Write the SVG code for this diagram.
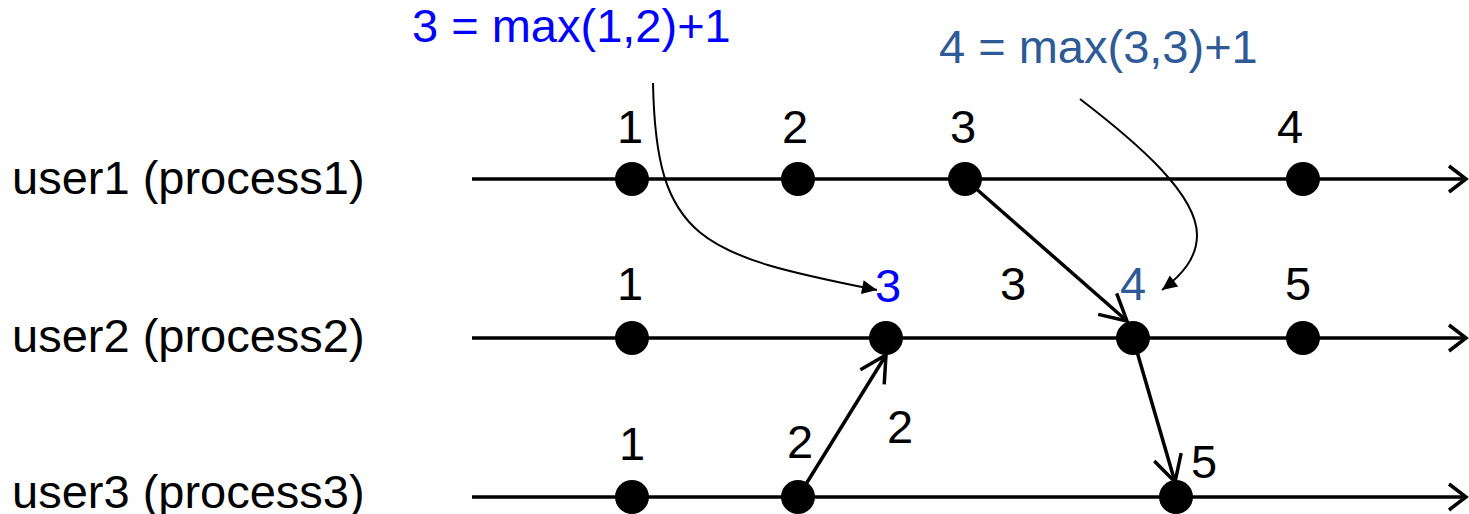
<svg xmlns="http://www.w3.org/2000/svg" width="1469" height="514" viewBox="0 0 1469 514">
<style>
text{font-family:"Liberation Sans",Arial,sans-serif;font-size:47px;fill:#000}
.c{text-anchor:middle}
.blue{fill:#0000FF}
.dblue{fill:#2E5A96}
.tl{stroke:#000;stroke-width:3.5;fill:none}
.msg{stroke:#000;stroke-width:3.5;fill:none}
.cur{stroke:#000;stroke-width:2;fill:none}
.dot{fill:#000}
</style>
<defs>
<marker id="open" markerUnits="userSpaceOnUse" markerWidth="40" markerHeight="40" refX="0" refY="0" viewBox="-30 -20 40 40" orient="auto">
<path d="M-26,-14 L0,0 L-26,14" fill="none" stroke="#000" stroke-width="3.5"/>
</marker>
<marker id="tl" markerUnits="userSpaceOnUse" markerWidth="40" markerHeight="40" refX="0" refY="0" viewBox="-30 -20 40 40" orient="auto">
<path d="M-17,-13 L0,0 L-17,13" fill="none" stroke="#000" stroke-width="3.5"/>
</marker>
<marker id="fill" markerUnits="userSpaceOnUse" markerWidth="30" markerHeight="30" refX="0" refY="0" viewBox="-20 -10 30 20" orient="auto">
<path d="M-15,-7 L0,0 L-15,7 Z" fill="#000"/>
</marker>
</defs>
<g id="labels">
<text x="12" y="194">user1 (process1)</text>
<text x="12" y="352">user2 (process2)</text>
<text x="12" y="508">user3 (process3)</text>
<text class="blue" x="412" y="42">3 = max(1,2)+1</text>
<text class="dblue" x="939" y="63">4 = max(3,3)+1</text>
</g>
<g id="connectors">
<line class="tl" x1="472" y1="179" x2="1466" y2="179" marker-end="url(#tl)"/>
<line class="tl" x1="472" y1="338" x2="1466" y2="338" marker-end="url(#tl)"/>
<line class="tl" x1="472" y1="497" x2="1466" y2="497" marker-end="url(#tl)"/>
<line class="msg" x1="965" y1="179" x2="1127" y2="321" marker-end="url(#open)"/>
<line class="msg" x1="798" y1="497" x2="886" y2="355" marker-end="url(#open)"/>
<line class="msg" x1="1133" y1="338" x2="1175" y2="482" marker-end="url(#open)"/>
<path class="cur" d="M653,83 C656,240 700,255 877,290" marker-end="url(#fill)"/>
<path class="cur" d="M1080,99 C1140,145 1197,195 1197,235 C1197,258 1182,275 1162,290" marker-end="url(#fill)"/>
</g>
<g id="p1">
<circle class="dot" cx="632" cy="179" r="17"/><text class="c" x="630" y="143">1</text>
<circle class="dot" cx="798" cy="179" r="17"/><text class="c" x="795" y="143">2</text>
<circle class="dot" cx="965" cy="179" r="17"/><text class="c" x="963" y="143">3</text>
<circle class="dot" cx="1303" cy="179" r="17"/><text class="c" x="1290" y="143">4</text>
</g>
<g id="p2">
<circle class="dot" cx="632" cy="338" r="17"/><text class="c" x="630" y="300">1</text>
<circle class="dot" cx="886" cy="338" r="17"/><text class="c blue" x="888" y="302">3</text>
<text class="c" x="1013" y="300">3</text>
<circle class="dot" cx="1133" cy="338" r="17"/><text class="c dblue" x="1133" y="300">4</text>
<circle class="dot" cx="1303" cy="338" r="17"/><text class="c" x="1298" y="300">5</text>
</g>
<g id="p3">
<circle class="dot" cx="632" cy="497" r="17"/><text class="c" x="632" y="460">1</text>
<circle class="dot" cx="798" cy="497" r="17"/><text class="c" x="800" y="458">2</text>
<text class="c" x="900" y="443">2</text>
<circle class="dot" cx="1176" cy="497" r="17"/><text class="c" x="1204" y="478">5</text>
</g>
</svg>
